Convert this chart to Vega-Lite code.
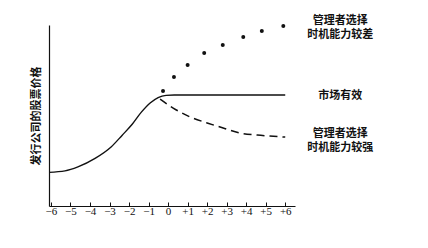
{
  "$schema": "https://vega.github.io/schema/vega-lite/v6.json",
  "width": 246,
  "height": 181,
  "autosize": {"type": "none"},
  "padding": {"left": 49, "top": 25, "right": 133, "bottom": 42},
  "background": "white",
  "config": {"view": {"stroke": null}},
  "datasets": {
    "curves": [
      {"x": -6.1, "y": 18.6, "s": "efficient"},
      {"x": -5.28, "y": 19.4, "s": "efficient"},
      {"x": -4.62, "y": 21.6, "s": "efficient"},
      {"x": -3.74, "y": 26.3, "s": "efficient"},
      {"x": -2.92, "y": 32.6, "s": "efficient"},
      {"x": -2.36, "y": 39.0, "s": "efficient"},
      {"x": -1.85, "y": 45.0, "s": "efficient"},
      {"x": -1.38, "y": 51.7, "s": "efficient"},
      {"x": -0.92, "y": 56.9, "s": "efficient"},
      {"x": -0.51, "y": 59.9, "s": "efficient"},
      {"x": -0.1, "y": 61.1, "s": "efficient"},
      {"x": 0.31, "y": 61.3, "s": "efficient"},
      {"x": 6, "y": 61.3, "s": "efficient"},
      {"x": -0.41, "y": 59.0, "s": "strong"},
      {"x": 0.26, "y": 54.1, "s": "strong"},
      {"x": 1.13, "y": 49.2, "s": "strong"},
      {"x": 2.0, "y": 45.9, "s": "strong"},
      {"x": 2.82, "y": 43.1, "s": "strong"},
      {"x": 3.69, "y": 40.3, "s": "strong"},
      {"x": 4.56, "y": 39.2, "s": "strong"},
      {"x": 6.0, "y": 38.1, "s": "strong"}
    ],
    "dots": [
      {"x": -0.26, "y": 63.5},
      {"x": 0.3, "y": 71.3},
      {"x": 1.0, "y": 77.9},
      {"x": 1.85, "y": 84.5},
      {"x": 2.8, "y": 89.0},
      {"x": 3.85, "y": 93.4},
      {"x": 4.8, "y": 96.7},
      {"x": 5.9, "y": 99.4}
    ],
    "labels": [
      {"x": 8.82, "y": 102.2, "t": "管理者选择\n时机能力较差"},
      {"x": 8.82, "y": 60.8, "t": "市场有效"},
      {"x": 8.82, "y": 39.6, "t": "管理者选择\n时机能力较强"}
    ]
  },
  "layer": [
    {
      "data": {"name": "curves"},
      "transform": [{"filter": "datum.s === 'efficient'"}],
      "mark": {"type": "line", "color": "#111", "strokeWidth": 1.4, "interpolate": "monotone"},
      "encoding": {
        "x": {
          "field": "x", "type": "quantitative",
          "scale": {"domain": [-6.1, 6.5], "nice": false, "zero": false},
          "axis": {
            "title": null, "values": [-6, -5, -4, -3, -2, -1, 0, 1, 2, 3, 4, 5, 6], "tickCount": 20,
            "grid": false, "tickSize": -4, "tickColor": "#111", "domainColor": "#111", "domainWidth": 1.2,
            "labelExpr": "datum.value > 0 ? '+' + datum.value : (datum.value < 0 ? '−' + abs(datum.value) : '0')",
            "labelFont": "Liberation Serif", "labelFontSize": 11, "labelColor": "#111", "labelPadding": 3,
            "labelFlush": false, "labelOverlap": false
          }
        },
        "y": {
          "field": "y", "type": "quantitative",
          "scale": {"domain": [0, 100], "nice": false},
          "axis": {
            "title": "发行公司的股票价格", "titleFont": "Noto Sans CJK SC", "titleFontSize": 11, "titleFontWeight": "bold",
            "titleColor": "#111", "titlePadding": 8, "labels": false, "ticks": false, "grid": false,
            "domainColor": "#111", "domainWidth": 1.2
          }
        }
      }
    },
    {
      "data": {"name": "curves"},
      "transform": [{"filter": "datum.s === 'strong'"}],
      "mark": {"type": "line", "color": "#111", "strokeWidth": 1.5, "strokeDash": [8, 5], "interpolate": "monotone"},
      "encoding": {
        "x": {"field": "x", "type": "quantitative"},
        "y": {"field": "y", "type": "quantitative"}
      }
    },
    {
      "data": {"name": "dots"},
      "mark": {"type": "circle", "color": "#111", "size": 16, "opacity": 1},
      "encoding": {
        "x": {"field": "x", "type": "quantitative"},
        "y": {"field": "y", "type": "quantitative"}
      }
    },
    {
      "data": {"name": "labels"},
      "mark": {"type": "text", "font": "Noto Sans CJK SC", "fontSize": 11, "fontWeight": "bold", "color": "#111", "lineBreak": "\n", "lineHeight": 14, "align": "center", "baseline": "middle", "clip": false},
      "encoding": {
        "x": {"field": "x", "type": "quantitative"},
        "y": {"field": "y", "type": "quantitative"},
        "text": {"field": "t"}
      }
    }
  ]
}
